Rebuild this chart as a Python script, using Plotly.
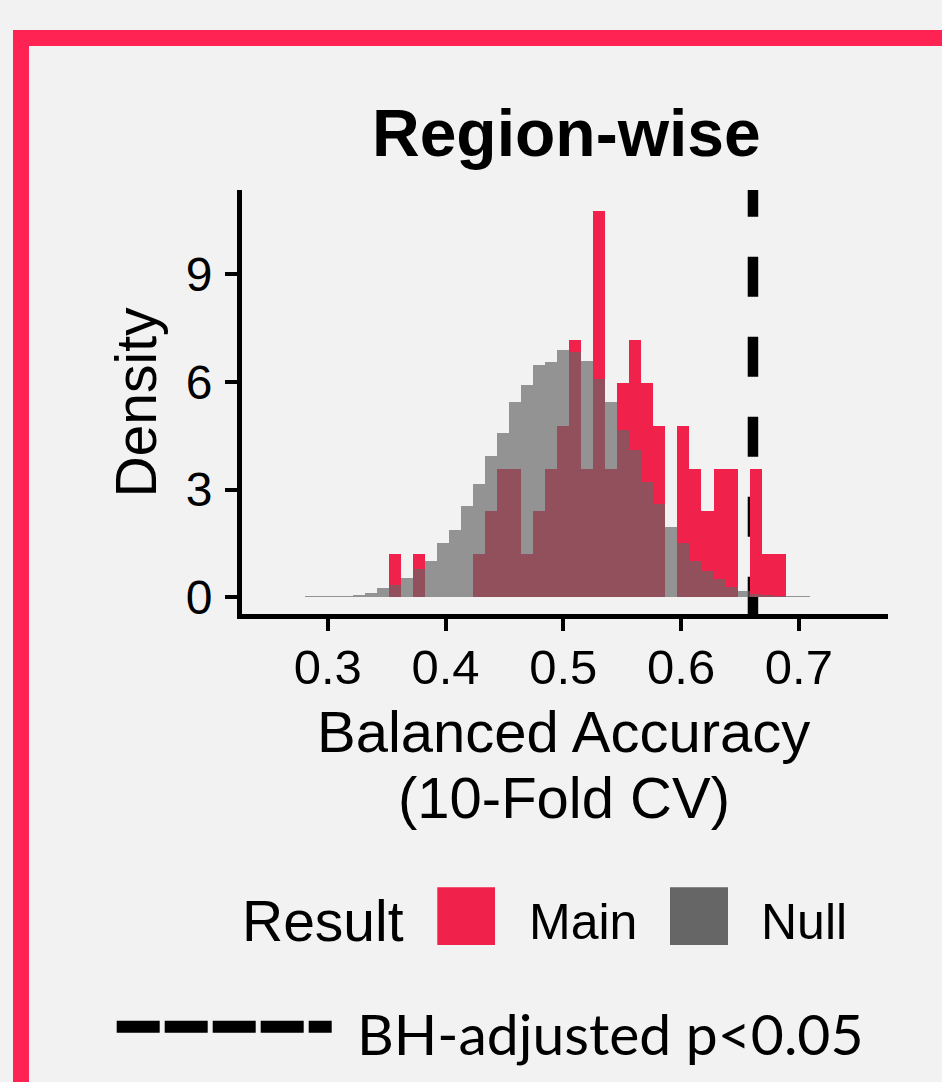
import plotly.graph_objects as go

# ---------------- data ----------------
BIN_START = 0.2807      # left edge of first histogram bin
BIN_WIDTH = 0.0102      # histogram bin width

# Null distribution density per bin (42 bins)
null_density = [0.03, 0.03, 0.03, 0.05, 0.07, 0.13, 0.25, 0.33, 0.53, 0.78,
                1.00, 1.51, 1.88, 2.55, 3.17, 3.93, 4.58, 5.45, 5.90, 6.46,
                6.55, 6.90, 6.82, 6.59, 6.07, 5.44, 4.66, 4.09, 3.22, 2.60,
                1.97, 1.50, 1.02, 0.74, 0.50, 0.29, 0.18, 0.10, 0.06, 0.04,
                0.03, 0.03]

# Main result counts per bin (same 42 bins)
main_counts = [0, 0, 0, 0, 0, 0, 0, 1, 0, 1,
               0, 0, 0, 0, 1, 2, 3, 3, 1, 2,
               3, 4, 6, 3, 9, 3, 5, 6, 5, 4,
               0, 4, 3, 2, 3, 3, 0, 3, 1, 1,
               0, 0]

threshold = 0.661   # BH-adjusted p<0.05 line
x_ticks = [0.3, 0.4, 0.5, 0.6, 0.7]
x_tick_labels = ["0.3", "0.4", "0.5", "0.6", "0.7"]
y_ticks = [0, 3, 6, 9]
y_tick_labels = ["0", "3", "6", "9"]

title_text = "Region-wise"
x_title = ["Balanced Accuracy", "(10-Fold CV)"]
y_title = "Density"
legend_title = "Result"
legend_items = ["Main", "Null"]
line_legend = "BH-adjusted p<0.05"

MAIN_COLOR = "#F0224C"
NULL_COLOR = "#666666"
BORDER_COLOR = "#FF2353"
BG = "#F2F2F2"

# ---------------- derived ----------------
n_bins = len(null_density)
centers = [BIN_START + (i + 0.5) * BIN_WIDTH for i in range(n_bins)]
total_main = sum(main_counts)
main_density = [c / (total_main * BIN_WIDTH) for c in main_counts]

W, H = 942, 1082
L, R, T, B = 242, 888, 190, 614   # plot area in pixels

def px_x(px):
    return (px - L) / (R - L)

def px_y(py):
    return (B - py) / (B - T)

# data range from pixel calibration
def data_x(px):
    return 0.3 + (px - 327.7) / 1178.0

def data_y(py):
    return (597.3 - py) / 35.9

FONT = "Liberation Sans, Arial, sans-serif"

fig = go.Figure()
fig.add_trace(go.Bar(x=centers, y=main_density, width=BIN_WIDTH,
                     marker=dict(color=MAIN_COLOR, line=dict(width=0)),
                     name="Main", showlegend=False))
fig.add_trace(go.Bar(x=centers, y=null_density, width=BIN_WIDTH,
                     marker=dict(color="rgba(102,102,102,0.68)", line=dict(width=0)),
                     name="Null", showlegend=False))

shapes = []
# threshold dashed line (below bars)
shapes.append(dict(type="line", xref="x", yref="paper", x0=threshold, x1=threshold,
                   y0=px_y(616.7), y1=1, layer="below",
                   line=dict(color="black", width=10.5, dash="40px,40px")))
# red frame
shapes.append(dict(type="rect", xref="paper", yref="paper",
                   x0=px_x(21), x1=px_x(970), y0=px_y(38), y1=px_y(1110),
                   line=dict(color=BORDER_COLOR, width=16), layer="above"))
# legend keys
shapes.append(dict(type="rect", xref="paper", yref="paper",
                   x0=px_x(437.3), x1=px_x(495), y0=px_y(887.3), y1=px_y(945),
                   fillcolor=MAIN_COLOR, line=dict(width=0)))
shapes.append(dict(type="rect", xref="paper", yref="paper",
                   x0=px_x(670), x1=px_x(728), y0=px_y(887.3), y1=px_y(945),
                   fillcolor=NULL_COLOR, line=dict(width=0)))
# legend line
shapes.append(dict(type="line", xref="paper", yref="paper",
                   x0=px_x(116.7), x1=px_x(331.7), y0=px_y(1026.7), y1=px_y(1026.7),
                   line=dict(color="black", width=12, dash="43px,5px")))

annotations = []
def ann(text, cx, cy, size, xanchor="center", angle=0, family=FONT):
    annotations.append(dict(text=text, x=px_x(cx), y=px_y(cy), xref="paper", yref="paper",
                            showarrow=False, xanchor=xanchor, yanchor="middle",
                            textangle=angle, font=dict(family=family, size=size, color="black")))

ann("<b>" + title_text + "</b>", 566, 155 - 0.33 * 66, 66)
ann(x_title[0], 563.5, 750.7 - 0.33 * 58, 58)
ann(x_title[1], 564, 816.7 - 0.33 * 58, 58)
ann(y_title, 155 - 0.33 * 57, 402.4, 57, angle=-90)
ann(legend_title, 240, 940 - 0.33 * 57, 57, xanchor="left")
ann(legend_items[0], 527, 938.3 - 0.33 * 50, 50, xanchor="left")
ann(legend_items[1], 759, 938.3 - 0.33 * 50, 50, xanchor="left")
ann(line_legend, 355, 1051.7 - 0.33 * 57, 57, xanchor="left", family="Lato, sans-serif")

fig.update_layout(
    width=W, height=H,
    margin=dict(l=L, r=W - R, t=T, b=H - B, pad=0),
    paper_bgcolor=BG, plot_bgcolor=BG,
    barmode="overlay", bargap=0,
    showlegend=False,
    shapes=shapes, annotations=annotations,
    font=dict(family=FONT, color="black"),
)
fig.update_xaxes(range=[data_x(L), data_x(R)], tickvals=x_ticks, ticktext=x_tick_labels,
                 showgrid=False, zeroline=False, showline=True, linecolor="black", linewidth=5,
                 ticks="outside", ticklen=12, tickwidth=4, tickcolor="black",
                 ticklabelstandoff=-6,
                 tickfont=dict(size=49, family=FONT, color="black"))
fig.update_yaxes(range=[data_y(B), data_y(T)], tickvals=y_ticks, ticktext=y_tick_labels,
                 showgrid=False, zeroline=False, showline=True, linecolor="black", linewidth=5,
                 ticks="outside", ticklen=12, tickwidth=4, tickcolor="black",
                 ticklabelstandoff=3,
                 tickfont=dict(size=48, family=FONT, color="black"))

fig.write_html("out.html")
